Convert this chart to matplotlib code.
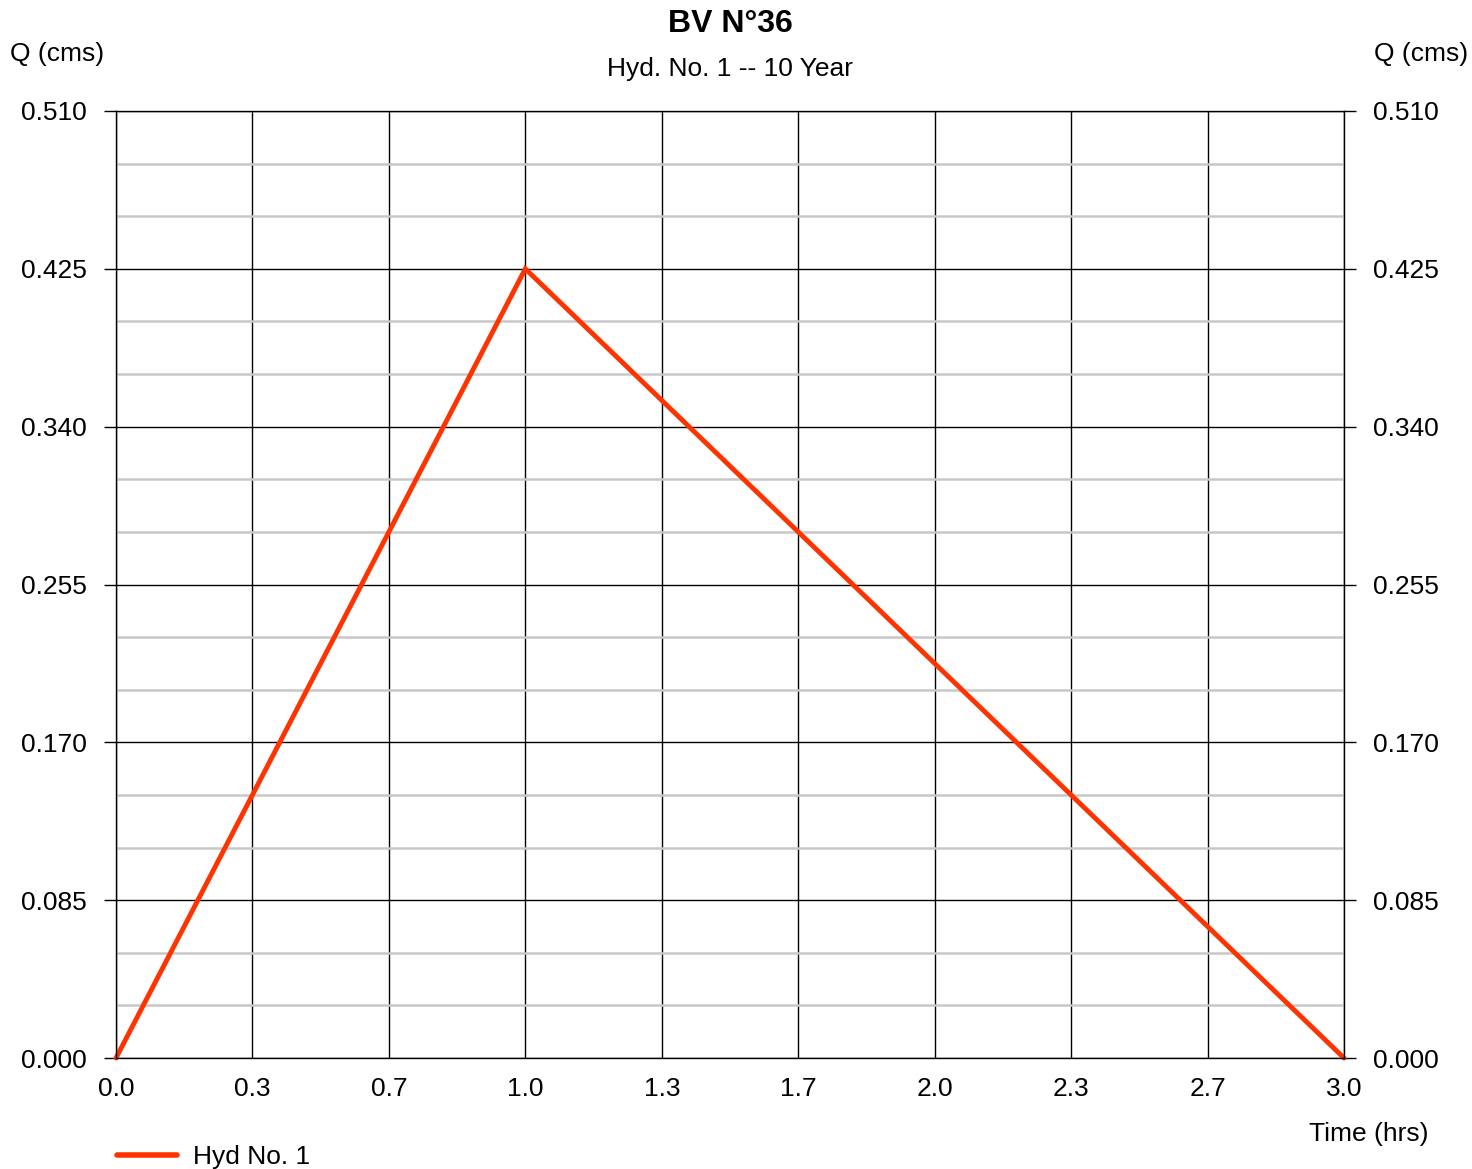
import matplotlib.pyplot as plt
from matplotlib.ticker import MultipleLocator

plt.rcParams['font.family'] = ['Liberation Sans', 'DejaVu Sans']

# hydrograph points
time_hrs = [0.0, 1.0, 3.0]
flow_cms = [0.0, 0.425, 0.0]

x_ticks = [0, 1/3, 2/3, 1, 4/3, 5/3, 2, 7/3, 8/3, 3]
x_labels = ['0.0', '0.3', '0.7', '1.0', '1.3', '1.7', '2.0', '2.3', '2.7', '3.0']
y_ticks = [0.0, 0.085, 0.170, 0.255, 0.340, 0.425, 0.510]
y_labels = ['%.3f' % v for v in y_ticks]

FS = 19

fig = plt.figure(figsize=(14.72, 11.69), dpi=100)
ax = fig.add_axes([116/1472, 1 - 1058/1169, 1228/1472, 947/1169])

ax.set_xlim(0, 3)
ax.set_ylim(0, 0.51)
ax.set_xticks(x_ticks)
ax.set_xticklabels(x_labels)
ax.set_yticks(y_ticks)
ax.set_yticklabels(y_labels)
ax.yaxis.set_minor_locator(MultipleLocator(0.085 / 3))

ax.grid(True, which='major', color='black', linewidth=1.0)
ax.grid(True, which='minor', axis='y', color='#c8c8c8', linewidth=1.8)
ax.set_axisbelow(True)

ax.tick_params(axis='y', which='major', direction='out', length=8.6, width=1.0,
               labelsize=FS, pad=12.5, left=True, right=True,
               labelleft=True, labelright=True)
ax.tick_params(axis='y', which='minor', length=0)
ax.tick_params(axis='x', length=0, labelsize=FS, pad=14)

for s in ax.spines.values():
    s.set_color('black')
    s.set_linewidth(1.0)

ax.plot(time_hrs, flow_cms, color='#ff3300', linewidth=3.5,
        solid_capstyle='round', solid_joinstyle='miter', clip_on=False)

fig.text(730/1472, 1 - 24/1169, 'BV N°36', ha='center', va='center',
         fontsize=23, fontweight='bold')
fig.text(730/1472, 1 - 69/1169, 'Hyd. No. 1 -- 10 Year', ha='center',
         va='center', fontsize=FS)
fig.text(10/1472, 1 - 54/1169, 'Q (cms)', ha='left', va='center', fontsize=FS)
fig.text(1468/1472, 1 - 54/1169, 'Q (cms)', ha='right', va='center', fontsize=FS)
fig.text(1369/1472, 1 - 1134/1169, 'Time (hrs)', ha='center', va='center',
         fontsize=FS)

# legend drawn by hand below the plot
fig.lines.append(plt.Line2D([117/1472, 177/1472], [1 - 1155/1169] * 2,
                            transform=fig.transFigure, color='#ff3300',
                            linewidth=4, solid_capstyle='round'))
fig.text(193/1472, 1 - 1157/1169, 'Hyd No. 1', ha='left', va='center',
         fontsize=FS)

fig.savefig('out.png', dpi=100)
